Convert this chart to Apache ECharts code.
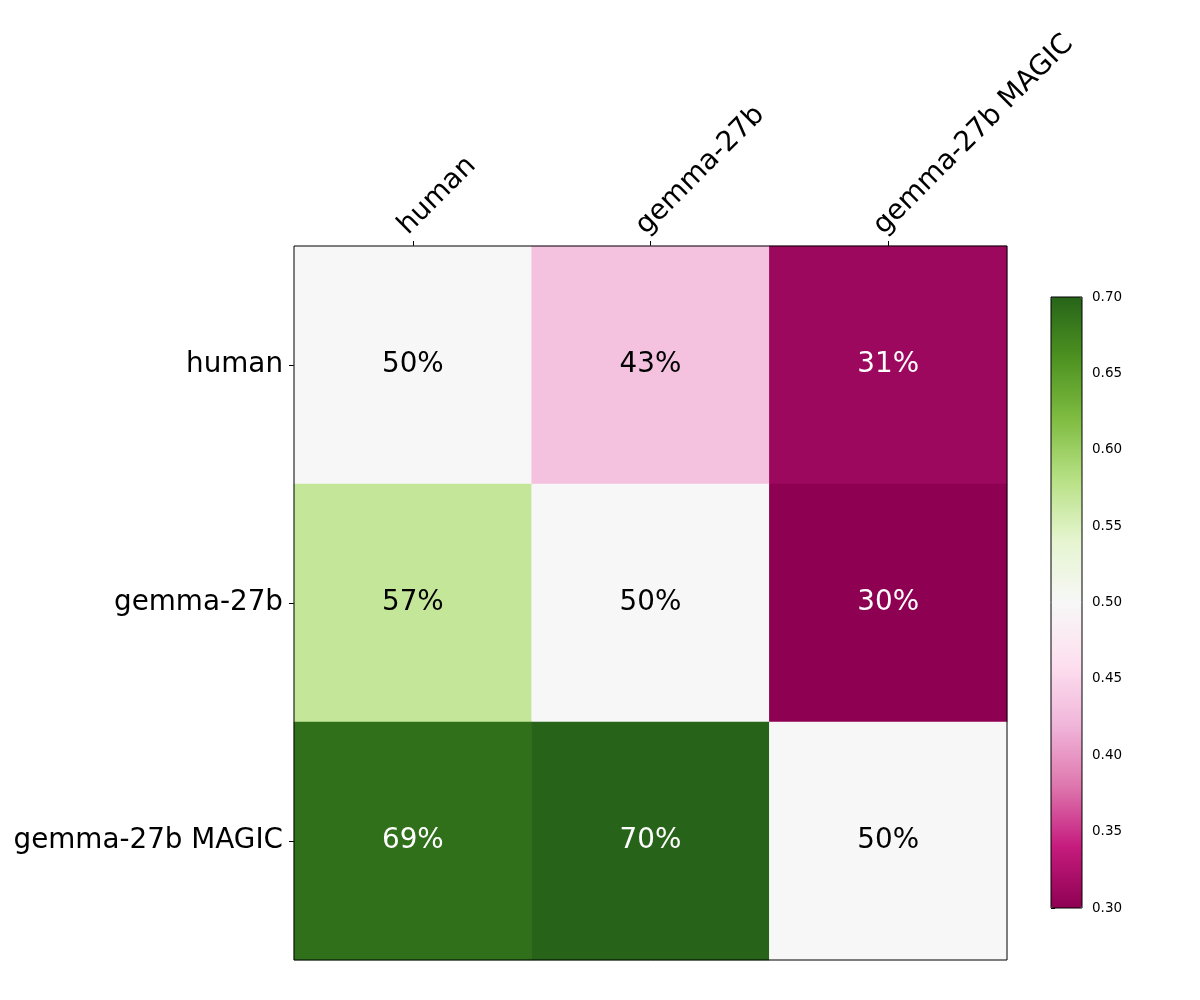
<!DOCTYPE html>
<html>
<head>
<meta charset="utf-8">
<script src="https://cdn.jsdelivr.net/npm/echarts@6/dist/echarts.min.js"></script>
<style>
  html, body { margin: 0; padding: 0; background: #fff; }
  #chart { width: 1200px; height: 1000px; }
</style>
</head>
<body>
<div id="chart"></div>
<script>
var models = ['human', 'gemma-27b', 'gemma-27b MAGIC'];
// win rate of row model vs column model
var rowHuman = [0.50, 0.43, 0.31];
var rowGemma = [0.57, 0.50, 0.30];
var rowMagic = [0.69, 0.70, 0.50];
var rows = [rowHuman, rowGemma, rowMagic];
var cbarTicks = [0.30, 0.35, 0.40, 0.45, 0.50, 0.55, 0.60, 0.65, 0.70];

// matplotlib PiYG
var piyg = ['#8e0152', '#c51b7d', '#de77ae', '#f1b6da', '#fde0ef', '#f7f7f7',
            '#e6f5d0', '#b8e186', '#7fbc41', '#4d9221', '#276419'];

var font = 'DejaVu Sans';

var data = [];
rows.forEach(function (vals, r) {
    vals.forEach(function (v, c) {
        data.push({
            value: [c, r, v],
            label: { color: (v < 0.35 || v > 0.65) ? '#fff' : '#000' }
        });
    });
});

var myChart = echarts.init(document.getElementById('chart'));

var option = {
    backgroundColor: '#fff',
    animation: false,
    grid: [
        { left: 294, top: 246, width: 713, height: 714, show: true, z: 10,
          borderColor: '#000', borderWidth: 1, backgroundColor: 'transparent' },
        { left: 1051, top: 297, width: 31, height: 611, show: true, z: 10,
          borderColor: '#000', borderWidth: 1, backgroundColor: 'transparent' }
    ],
    xAxis: [
        {
            gridIndex: 0, type: 'category', data: models, position: 'top',
            axisLine: { show: false },
            axisTick: { show: true, alignWithLabel: true, length: 5, lineStyle: { color: '#000' } },
            axisLabel: { rotate: -45, margin: 6, verticalAlign: 'bottom',
                         fontSize: 27.8, fontFamily: font, color: '#000' },
            splitLine: { show: false }
        },
        {
            gridIndex: 1, type: 'value', min: 0, max: 1, show: false
        }
    ],
    yAxis: [
        {
            gridIndex: 0, type: 'category', data: models, inverse: true,
            axisLine: { show: false },
            axisTick: { show: true, alignWithLabel: true, length: 5, lineStyle: { color: '#000' } },
            axisLabel: { margin: 11, fontSize: 27.8, fontFamily: font, color: '#000' },
            splitLine: { show: false }
        },
        {
            gridIndex: 1, type: 'value', min: 0.3, max: 0.7, interval: 0.05, position: 'right',
            axisLine: { show: false },
            axisTick: { show: true, length: 4, lineStyle: { color: '#000' } },
            axisLabel: { margin: 10, fontSize: 13.5, fontFamily: font, color: '#000',
                         formatter: function (v) { return v.toFixed(2); } },
            splitLine: { show: false }
        }
    ],
    visualMap: {
        type: 'continuous',
        seriesIndex: 0,
        min: 0.3, max: 0.7,
        calculable: false,
        realtime: false,
        left: 1051, top: 297,
        itemWidth: 31, itemHeight: 611,
        padding: 0,
        text: ['', ''],
        showLabel: false,
        inRange: { color: piyg }
    },
    series: [{
        type: 'heatmap',
        xAxisIndex: 0, yAxisIndex: 0,
        data: data,
        itemStyle: { borderWidth: 0 },
        label: {
            show: true, fontSize: 27.8, fontFamily: font,
            formatter: function (p) { return Math.round(p.value[2] * 100) + '%'; }
        },
        emphasis: { disabled: true }
    }]
};

myChart.setOption(option);
</script>
</body>
</html>
